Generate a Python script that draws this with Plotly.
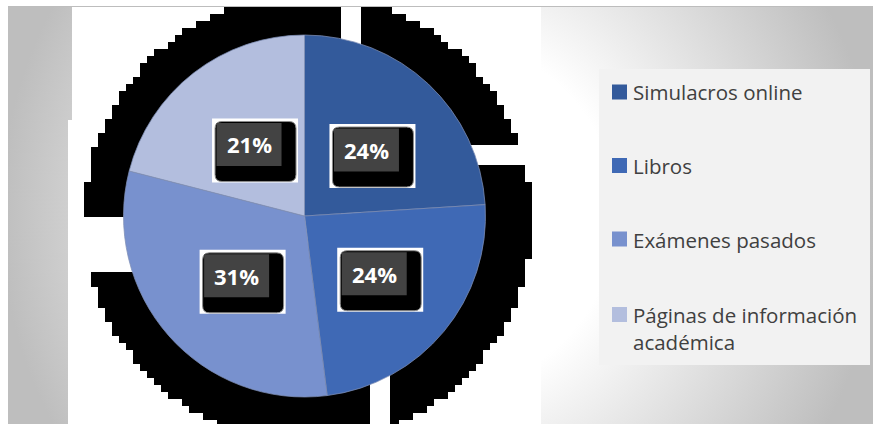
import numpy as np
import plotly.graph_objects as go

# ---- data -------------------------------------------------------------
labels = ["Simulacros online", "Libros", "Exámenes pasados",
          "Páginas de información<br>académica"]
values = [24, 24, 31, 21]
colors = ["#335A9B", "#3F69B5", "#7891CE", "#B3BEDE"]

# ---- page geometry (pixels, y grows downward) --------------------------
W, H = 873, 426
CX, CY, R = 304.5, 216.0, 181.0          # pie centre and radius
FONT = "Open Sans"


def stair_disk(cx, cy, r, step, y0, y1):
    """Blocky (pixelated) disk outline, used for the chart's drop shadow."""
    right, left = [], []
    y = y0
    while y < y1:
        yb = min(y + step, y1)
        ym = (y + yb) / 2
        d = r * r - (ym - cy) ** 2
        if d > 0:
            h = step * np.round(np.sqrt(d) / step)
            right += [(cx + h, y), (cx + h, yb)]
            left += [(cx - h, y), (cx - h, yb)]
        y = yb
    pts = right + left[::-1]
    xs = [p[0] for p in pts] + [pts[0][0]]
    ys = [p[1] for p in pts] + [pts[0][1]]
    return xs, ys


def rect(x0, y0, x1, y1):
    return [x0, x1, x1, x0, x0], [y0, y0, y1, y1, y0]


fig = go.Figure()

# chart background: soft radial grey fade
bx, by = rect(0, 215 - 440, 880, 215 + 440)
fig.add_trace(go.Scatter(
    x=bx, y=by, mode="lines", fill="toself", line=dict(width=0),
    fillgradient=dict(type="radial",
                      colorscale=[[0, "#ffffff"], [0.4, "#ffffff"], [1, "#bebebe"]]),
    hoverinfo="skip", showlegend=False))

# white plot area
fig.add_trace(go.Scatter(
    x=[72, 541, 541, 68, 68, 72, 72], y=[7, 7, 424, 424, 120, 120, 7],
    mode="lines", fill="toself", fillcolor="#ffffff", line=dict(width=0),
    hoverinfo="skip", showlegend=False))

# blocky black shadow behind the pie
sx, sy = stair_disk(308, 218, 224, 7, 7, 424)
fig.add_trace(go.Scatter(
    x=sx, y=sy, mode="lines", fill="toself", fillcolor="#000000",
    line=dict(width=0), hoverinfo="skip", showlegend=False))

# gaps between the shadow pieces
for g in [(341, 7, 361, 218), (308, 145, 541, 165),
          (370, 218, 390, 424), (68, 217, 308, 272)]:
    gx, gy = rect(*g)
    fig.add_trace(go.Scatter(
        x=gx, y=gy, mode="lines", fill="toself", fillcolor="#ffffff",
        line=dict(width=0), hoverinfo="skip", showlegend=False))

# the pie itself
fig.add_trace(go.Pie(
    labels=labels, values=values, sort=False, direction="clockwise",
    rotation=0, textinfo="none", hoverinfo="label+percent",
    marker=dict(colors=colors, line=dict(color="#7f8fb5", width=0.75)),
    domain=dict(x=[(CX - R) / W, (CX + R) / W],
                y=[(H - (CY + R)) / H, (H - (CY - R)) / H]),
    showlegend=False))

shapes, annotations = [], []

# chart border line
shapes.append(dict(type="line", xref="paper", yref="paper",
                   x0=8 / W, x1=1, y0=(H - 6.5) / H, y1=(H - 6.5) / H,
                   line=dict(color="#bdbdbd", width=1)))

# data labels: boxed percentages at half radius, mid-slice
total = sum(values)
cum = 0.0
for v in values:
    mid = (cum + v / 2) / total * 2 * np.pi
    cum += v
    tx = CX + 0.5 * R * np.sin(mid)
    ty = CY - 0.5 * R * np.cos(mid)
    shapes.append(dict(type="rect", xref="x", yref="y", layer="above",
                       x0=tx - 37, x1=tx + 49, y0=ty - 26, y1=ty + 38,
                       fillcolor="#ffffff", line=dict(width=0)))
    x0, x1, y0, y1, rr = tx - 34, tx + 47, ty - 23, ty + 37, 7
    path = (f"M{x0 + rr},{y0} L{x1 - rr},{y0} Q{x1},{y0} {x1},{y0 + rr} "
            f"L{x1},{y1 - rr} Q{x1},{y1} {x1 - rr},{y1} L{x0 + rr},{y1} "
            f"Q{x0},{y1} {x0},{y1 - rr} L{x0},{y0 + rr} Q{x0},{y0} {x0 + rr},{y0} Z")
    shapes.append(dict(type="path", xref="x", yref="y", layer="above",
                       path=path, fillcolor="#000000",
                       line=dict(color="#8c8c8c", width=1)))
    shapes.append(dict(type="rect", xref="x", yref="y", layer="above",
                       x0=tx - 32.5, x1=tx + 32.5, y0=ty - 21.5, y1=ty + 21.5,
                       fillcolor="#434343", line=dict(width=0)))
    annotations.append(dict(x=tx, y=ty, xref="x", yref="y",
                            text=f"<b>{v / total * 100:.0f}%</b>",
                            showarrow=False, xanchor="center", yanchor="middle",
                            font=dict(family=FONT, size=22, color="#ffffff")))

# legend panel
shapes.append(dict(type="rect", xref="x", yref="y", layer="above",
                   x0=599, x1=870, y0=69, y1=365,
                   fillcolor="#f2f2f2", line=dict(width=0)))
row_y = [92, 165.5, 239, 314.5]
for lab, col, yy in zip(labels, colors, row_y):
    shapes.append(dict(type="rect", xref="x", yref="y", layer="above",
                       x0=612, x1=627, y0=yy - 7.5, y1=yy + 7.5,
                       fillcolor=col, line=dict(width=0)))
    annotations.append(dict(x=631, y=yy - 15.5, xref="x", yref="y",
                            text=lab, showarrow=False, align="left",
                            xanchor="left", yanchor="top",
                            font=dict(family=FONT, size=20.5, color="#404040")))

fig.update_layout(
    width=W, height=H, autosize=False,
    margin=dict(l=0, r=0, t=0, b=0, pad=0),
    paper_bgcolor="#ffffff", plot_bgcolor="rgba(0,0,0,0)",
    xaxis=dict(domain=[8 / W, 1], range=[8, 873], visible=False, fixedrange=True),
    yaxis=dict(domain=[(H - 424) / H, (H - 6) / H], range=[424, 6],
               visible=False, fixedrange=True),
    shapes=shapes, annotations=annotations, showlegend=False,
)

fig.write_html("out.html")
